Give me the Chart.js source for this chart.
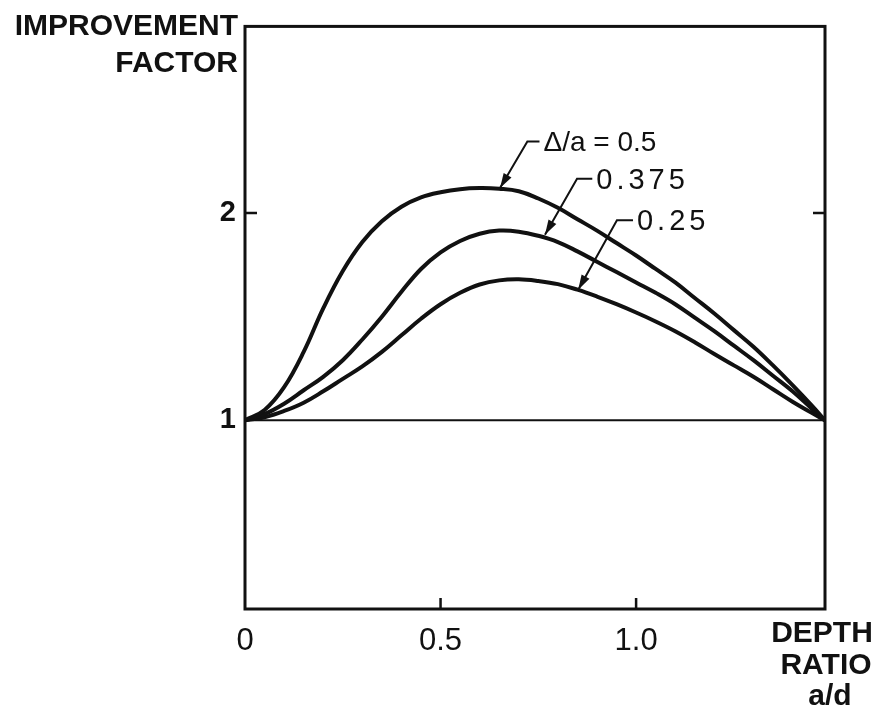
<!DOCTYPE html>
<html>
<head>
<meta charset="utf-8">
<script src="https://cdn.jsdelivr.net/npm/chart.js@4"></script>
<style>
  html, body { margin: 0; padding: 0; background: #fff; }
  #wrap { width: 881px; height: 715px; }
</style>
</head>
<body>
<div id="wrap"><canvas id="chart" width="881" height="715"></canvas></div>
<script>
// depth ratio a/d
const depthRatio = [0, 0.05, 0.1, 0.15, 0.2, 0.25, 0.3, 0.35, 0.4, 0.45, 0.5, 0.55, 0.6, 0.65, 0.7, 0.75,
  0.8, 0.85, 0.9, 0.95, 1.0, 1.05, 1.1, 1.15, 1.2, 1.25, 1.3, 1.35, 1.4, 1.45, 1.483];
// improvement factor for each delta/a
const curve050  = [1.0, 1.05, 1.16, 1.33, 1.54, 1.72, 1.86, 1.96, 2.03, 2.075, 2.10, 2.115, 2.12, 2.117, 2.105, 2.07,
  2.025, 1.97, 1.915, 1.855, 1.795, 1.73, 1.665, 1.59, 1.515, 1.435, 1.355, 1.265, 1.17, 1.07, 1.0];
const curve0375 = [1.0, 1.03, 1.08, 1.145, 1.21, 1.29, 1.39, 1.50, 1.62, 1.73, 1.81, 1.865, 1.90, 1.915, 1.91, 1.89,
  1.86, 1.815, 1.765, 1.715, 1.665, 1.615, 1.56, 1.495, 1.43, 1.36, 1.29, 1.215, 1.14, 1.055, 1.0];
const curve025  = [1.0, 1.015, 1.045, 1.085, 1.14, 1.20, 1.26, 1.33, 1.41, 1.49, 1.56, 1.615, 1.655, 1.675, 1.68, 1.672,
  1.657, 1.63, 1.597, 1.56, 1.52, 1.477, 1.43, 1.377, 1.32, 1.265, 1.21, 1.15, 1.09, 1.035, 1.0];
const unityLine = [1, 1];
const xTicks = [0, 0.5, 1.0];
const xTickLabels = ['0', '0.5', '1.0'];
const yTicks = [1, 2];
const yTickLabels = ['1', '2'];
const curveNames = ['Δ/a = 0.5', '0.375', '0.25'];

const toPts = (ys) => ys.map((y, i) => ({ x: depthRatio[i], y }));

// leader lines: tip on curve, knee, end of short horizontal dash (data units)
const leaders = [
  { text: curveNames[0], tip: [0.652, 2.12],  knee: [0.722, 2.345], end: [0.753, 2.345], spacing: 0, size: 28 },
  { text: curveNames[1], tip: [0.767, 1.895], knee: [0.849, 2.165], end: [0.888, 2.165], spacing: 4, size: 29 },
  { text: curveNames[2], tip: [0.852, 1.63],  knee: [0.951, 1.965], end: [0.992, 1.965], spacing: 4, size: 29 }
];

const INK = '#111';

const curveStyle = {
  borderColor: INK,
  borderWidth: 4,
  pointRadius: 0,
  fill: false,
  tension: 0.4
};

const decorPlugin = {
  id: 'decor',
  afterDatasetsDraw(chart) {
    const { ctx, chartArea: a, scales: { x, y } } = chart;
    ctx.save();
    ctx.strokeStyle = INK;
    ctx.fillStyle = INK;

    // frame
    ctx.lineWidth = 3;
    ctx.strokeRect(a.left, a.top, a.right - a.left, a.bottom - a.top);

    // inward tick marks
    ctx.lineWidth = 2.5;
    ctx.beginPath();
    xTicks.slice(1).forEach(v => {
      const px = x.getPixelForValue(v);
      ctx.moveTo(px, a.bottom); ctx.lineTo(px, a.bottom - 11);
    });
    const py2 = y.getPixelForValue(2);
    ctx.moveTo(a.left, py2); ctx.lineTo(a.left + 12, py2);
    ctx.moveTo(a.right, py2); ctx.lineTo(a.right - 12, py2);
    ctx.stroke();

    // leader lines with arrows
    ctx.lineWidth = 2;
    leaders.forEach(l => {
      const tx = x.getPixelForValue(l.tip[0]), ty = y.getPixelForValue(l.tip[1]);
      const kx = x.getPixelForValue(l.knee[0]), ky = y.getPixelForValue(l.knee[1]);
      const ex = x.getPixelForValue(l.end[0]), ey = y.getPixelForValue(l.end[1]);
      ctx.beginPath();
      ctx.moveTo(ex, ey); ctx.lineTo(kx, ky); ctx.lineTo(tx, ty);
      ctx.stroke();
      const ang = Math.atan2(ty - ky, tx - kx);
      const len = 15, half = 4.5;
      ctx.beginPath();
      ctx.moveTo(tx, ty);
      ctx.lineTo(tx - len * Math.cos(ang) + half * Math.sin(ang), ty - len * Math.sin(ang) - half * Math.cos(ang));
      ctx.lineTo(tx - len * Math.cos(ang) - half * Math.sin(ang), ty - len * Math.sin(ang) + half * Math.cos(ang));
      ctx.closePath();
      ctx.fill();

      ctx.font = l.size + 'px "Liberation Sans", Arial, sans-serif';
      ctx.letterSpacing = l.spacing + 'px';
      ctx.textAlign = 'left';
      ctx.textBaseline = 'middle';
      ctx.fillText(l.text, ex + 4, ey + 2);
    });

    // axis titles
    ctx.letterSpacing = '0px';
    ctx.font = 'bold 30px "Liberation Sans", Arial, sans-serif';
    ctx.textBaseline = 'middle';
    ctx.textAlign = 'right';
    ctx.fillText('IMPROVEMENT', a.left - 7, 27);
    ctx.fillText('FACTOR', a.left - 7, 64);
    ctx.textAlign = 'center';
    ctx.fillText('DEPTH', 822, 634);
    ctx.fillText('RATIO', 826, 666);
    ctx.fillText('a/d', 830, 697);
    ctx.restore();
  }
};

new Chart(document.getElementById('chart'), {
  type: 'line',
  data: {
    datasets: [
      { label: curveNames[0], data: toPts(curve050), ...curveStyle },
      { label: curveNames[1], data: toPts(curve0375), ...curveStyle },
      { label: curveNames[2], data: toPts(curve025), ...curveStyle },
      {
        label: 'unity',
        data: [{ x: depthRatio[0], y: unityLine[0] }, { x: depthRatio[depthRatio.length - 1], y: unityLine[1] }],
        borderColor: INK, borderWidth: 2, pointRadius: 0, fill: false
      }
    ]
  },
  options: {
    responsive: false,
    animation: false,
    layout: { padding: { top: 25, right: 56, left: 0, bottom: 0 } },
    plugins: { legend: { display: false }, tooltip: { enabled: false } },
    scales: {
      x: {
        type: 'linear',
        min: 0,
        max: 1.483,
        afterBuildTicks: s => { s.ticks = xTicks.map(v => ({ value: v })); },
        afterFit: s => { s.height = 106; },
        grid: { display: false, drawTicks: false },
        border: { display: false },
        ticks: {
          padding: 14,
          color: INK,
          maxRotation: 0,
          autoSkip: false,
          font: { family: '"Liberation Sans", Arial, sans-serif', size: 31 },
          callback: (v) => xTickLabels[xTicks.indexOf(v)]
        }
      },
      y: {
        type: 'linear',
        min: 0.09,
        max: 2.9,
        afterBuildTicks: s => { s.ticks = yTicks.map(v => ({ value: v })); },
        afterFit: s => { s.width = 245; },
        grid: { display: false, drawTicks: false },
        border: { display: false },
        ticks: {
          padding: 9,
          color: INK,
          font: { family: '"Liberation Sans", Arial, sans-serif', size: 29, weight: 'bold' },
          callback: (v) => yTickLabels[yTicks.indexOf(v)]
        }
      }
    }
  },
  plugins: [decorPlugin]
});
</script>
</body>
</html>
